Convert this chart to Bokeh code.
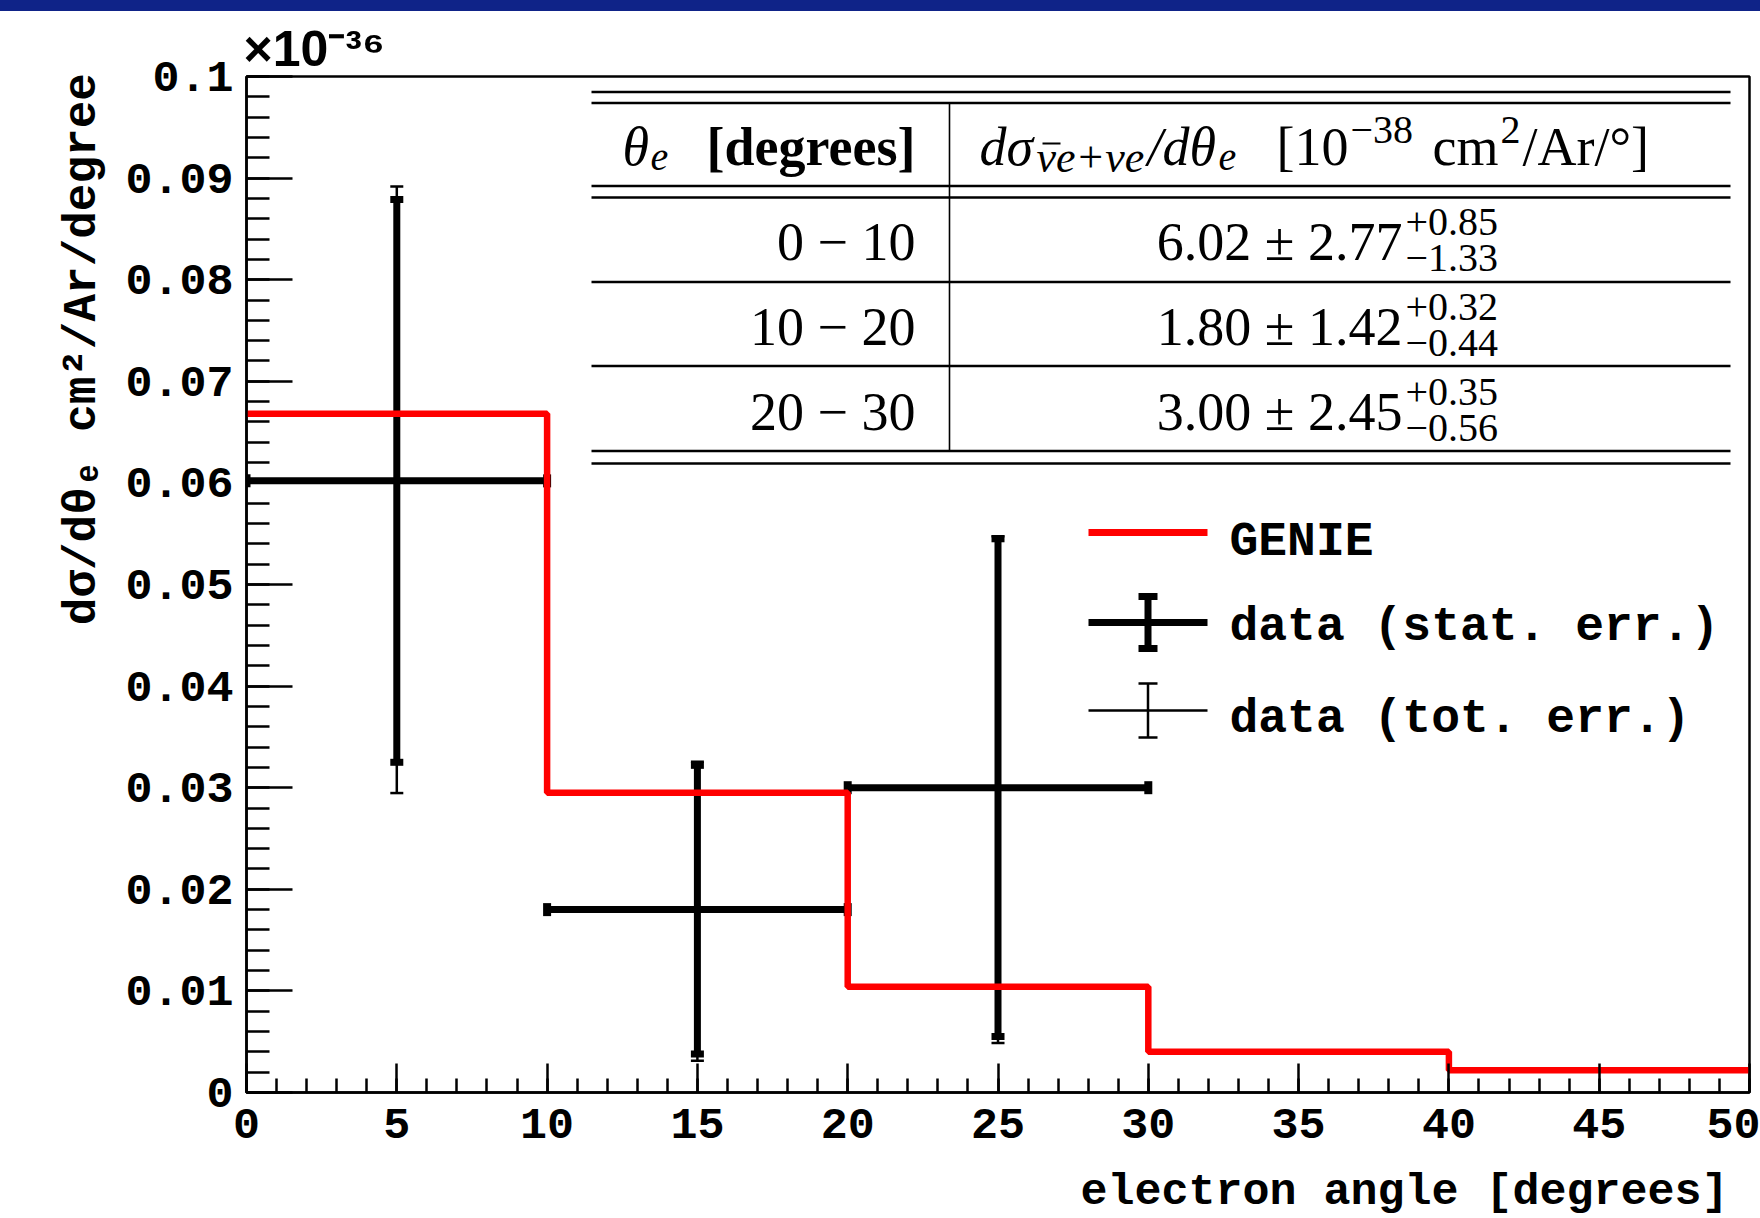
import numpy as np
from bokeh.plotting import figure
from bokeh.models import (ColumnDataSource, Whisker, TeeHead, Range1d, Title, Div,
                          SingleIntervalTicker, CustomJSTickFormatter)
from bokeh.layouts import column
from bokeh.core.properties import value
from bokeh.embed import file_html
from bokeh.resources import INLINE

# ---------------------------------------------------------------- data
# cross sections in units of 1e-36 cm^2 / Ar / degree
BIN_EDGES = [0, 10, 20, 30, 40, 50]
GENIE_XSEC = [0.0668, 0.0295, 0.0104, 0.0040, 0.0022]

DATA_BIN_LO = [0, 10, 20]
DATA_BIN_HI = [10, 20, 30]
DATA_XSEC = [0.0602, 0.0180, 0.0300]
DATA_STAT = [0.0277, 0.0142, 0.0245]
DATA_SYST_UP = [0.0085, 0.0032, 0.0035]
DATA_SYST_DN = [0.0133, 0.0044, 0.0056]

X_TICKS = [0, 5, 10, 15, 20, 25, 30, 35, 40, 45, 50]
X_TICK_LABELS = ["0", "5", "10", "15", "20", "25", "30", "35", "40", "45", "50"]
Y_TICKS = [0, 0.01, 0.02, 0.03, 0.04, 0.05, 0.06, 0.07, 0.08, 0.09, 0.1]
Y_TICK_LABELS = ["0", "0.01", "0.02", "0.03", "0.04", "0.05", "0.06",
                 "0.07", "0.08", "0.09", "0.1"]

LEGEND_LABELS = ["GENIE", "data (stat. err.)", "data (tot. err.)"]
X_LABEL = "electron angle [degrees]"
Y_LABEL = "dσ/dθₑ  cm²/Ar/degree"
Y_EXPONENT = "×10⁻³⁶"
TABLE_UNIT_SCALE = 100  # 1e-36 -> 1e-38

X_RANGE = (0, 50)
Y_RANGE = (0, 0.1)

# ---------------------------------------------------------------- layout (page pixels)
PAGE_W, PAGE_H = 1760, 1218
BAR_H = 11
FIG_X0, FIG_Y0 = 0, BAR_H
FIG_W, FIG_H = PAGE_W, PAGE_H - BAR_H
FRAME_L, FRAME_T, FRAME_W, FRAME_H = 246, 76, 1503, 1016
FRAME_B = FRAME_T + FRAME_H

MONO = "Liberation Mono"
SERIF = "Liberation Serif"
SANS = "Liberation Sans"


def dx(px):
    return X_RANGE[0] + (px - FRAME_L) / FRAME_W * (X_RANGE[1] - X_RANGE[0])


def dy(py):
    return Y_RANGE[0] + (FRAME_B - py) / FRAME_H * (Y_RANGE[1] - Y_RANGE[0])


p = figure(width=FIG_W, height=FIG_H, output_backend="svg", toolbar_location=None,
           x_range=Range1d(*X_RANGE), y_range=Range1d(*Y_RANGE),
           min_border_left=FRAME_L - FIG_X0,
           min_border_right=FIG_X0 + FIG_W - (FRAME_L + FRAME_W),
           min_border_top=FRAME_T - FIG_Y0,
           min_border_bottom=FIG_Y0 + FIG_H - FRAME_B)
p.xgrid.visible = False
p.ygrid.visible = False
p.outline_line_color = "black"
p.outline_line_width = 2.5
p.background_fill_color = "white"
p.border_fill_color = "white"

# ---------------------------------------------------------------- axes
fmt_code = """
let best = 0; let bd = Infinity;
for (let i = 0; i < tick_vals.length; i++) {
  const d = Math.abs(tick_vals[i] - tick);
  if (d < bd) { bd = d; best = i; }
}
return tick_labels[best];
"""
p.xaxis.ticker = SingleIntervalTicker(interval=5, num_minor_ticks=5)
p.xaxis.formatter = CustomJSTickFormatter(
    args=dict(tick_vals=X_TICKS, tick_labels=X_TICK_LABELS), code=fmt_code)
p.yaxis.ticker = SingleIntervalTicker(interval=0.01, num_minor_ticks=5)
p.yaxis.formatter = CustomJSTickFormatter(
    args=dict(tick_vals=Y_TICKS, tick_labels=Y_TICK_LABELS), code=fmt_code)

for ax in (p.xaxis[0], p.yaxis[0]):
    ax.axis_line_width = 2.5
    ax.axis_line_color = "black"
    ax.major_tick_line_width = 2.5
    ax.minor_tick_line_width = 2.5
    ax.major_tick_line_color = "black"
    ax.minor_tick_line_color = "black"
    ax.major_tick_out = 0
    ax.minor_tick_out = 0
    ax.major_label_text_font = MONO
    ax.major_label_text_font_style = "bold"
    ax.major_label_text_font_size = "45px"
    ax.major_label_text_color = "black"

p.xaxis.major_tick_in = 29
p.xaxis.minor_tick_in = 14
p.xaxis.major_label_standoff = 16
p.yaxis.major_tick_in = 46
p.yaxis.minor_tick_in = 23
p.yaxis.major_label_standoff = 13

# axis titles (ROOT style: at the far end of each axis) and the exponent
p.add_layout(Title(text=Y_EXPONENT, align="left", offset=-3, standoff=0,
                   text_font=SANS, text_font_style="bold", text_font_size="50px",
                   text_color="black"), "above")
p.add_layout(Title(text=Y_LABEL, align="right", offset=-31, standoff=27,
                   text_font=MONO, text_font_style="bold", text_font_size="46px",
                   text_color="black"), "left")
# empty spacer panel between the x axis and its title
p.add_layout(Title(text=" ", standoff=0, text_font_size="19px", text_font=MONO), "below")
p.add_layout(Title(text=X_LABEL, align="right", offset=21, standoff=0,
                   text_font=MONO, text_font_style="bold", text_font_size="45px",
                   text_color="black"), "below")

# ---------------------------------------------------------------- GENIE histogram
p.step(x=BIN_EDGES, y=GENIE_XSEC + [GENIE_XSEC[-1]], mode="after",
       line_color="#ff0000", line_width=6.5)

# ---------------------------------------------------------------- data points
x_c = [(a + b) / 2 for a, b in zip(DATA_BIN_LO, DATA_BIN_HI)]
y = np.array(DATA_XSEC)
st = np.array(DATA_STAT)
tot_up = np.sqrt(st ** 2 + np.array(DATA_SYST_UP) ** 2)
tot_dn = np.sqrt(st ** 2 + np.array(DATA_SYST_DN) ** 2)
src = ColumnDataSource(dict(
    x=x_c, y=y, xlo=DATA_BIN_LO, xhi=DATA_BIN_HI,
    st_lo=y - st, st_hi=y + st, tot_lo=y - tot_dn, tot_hi=y + tot_up))

w_tot = Whisker(source=src, base="x", lower="tot_lo", upper="tot_hi", dimension="height",
                line_color="black", line_width=2.5,
                upper_head=TeeHead(size=13, line_width=2.5, line_color="black"),
                lower_head=TeeHead(size=13, line_width=2.5, line_color="black"))
w_stat = Whisker(source=src, base="x", lower="st_lo", upper="st_hi", dimension="height",
                 line_color="black", line_width=7,
                 upper_head=TeeHead(size=13, line_width=7, line_color="black"),
                 lower_head=TeeHead(size=13, line_width=7, line_color="black"))
w_bin = Whisker(source=src, base="y", lower="xlo", upper="xhi", dimension="width",
                line_color="black", line_width=7,
                upper_head=TeeHead(size=13, line_width=8, line_color="black"),
                lower_head=TeeHead(size=13, line_width=8, line_color="black"))
for w in (w_tot, w_stat, w_bin):
    p.add_layout(w)

# ---------------------------------------------------------------- table
TBL_L, TBL_R, TBL_DIV = 591, 1730, 949
TBL_HLINES = [91.5, 102.5, 185.5, 197, 281.5, 365.5, 450.5, 463]
p.segment(x0=[dx(TBL_L)] * len(TBL_HLINES), x1=[dx(TBL_R)] * len(TBL_HLINES),
          y0=[dy(v) for v in TBL_HLINES], y1=[dy(v) for v in TBL_HLINES],
          line_color="black", line_width=2.6)
p.segment(x0=[dx(TBL_DIV)], x1=[dx(TBL_DIV)], y0=[dy(102.5)], y1=[dy(450.5)],
          line_color="black", line_width=1.6)
# bar over the anti-neutrino symbol in the header
p.segment(x0=[dx(1042)], x1=[dx(1060)], y0=[dy(143)], y1=[dy(143)],
          line_color="black", line_width=2.2)

M, S, SS = "54px", "40px", "44px"
HC = 146  # header text centre
pieces = [
    # header column 1
    ("θ", 622, HC, M, "italic", "left"),
    ("e", 650, HC + 10, S, "italic", "left"),
    ("[degrees]", 915, HC, M, "bold", "right"),
    # header column 2
    ("dσ", 979, HC, M, "italic", "left"),
    ("νe+νe", 1036, HC + 11, SS, "italic", "left"),
    ("/dθ", 1147, HC, M, "italic", "left"),
    ("e", 1218, HC + 10, S, "italic", "left"),
    ("[10", 1276, HC, M, "normal", "left"),
    ("\u221238", 1350, HC - 17, S, "normal", "left"),
    ("cm", 1432, HC, M, "normal", "left"),
    ("2", 1500, HC - 17, S, "normal", "left"),
    ("/Ar/°]", 1522, HC, M, "normal", "left"),
]
for i in range(len(DATA_XSEC)):
    c = 241 + 85 * i
    k = TABLE_UNIT_SCALE
    pieces += [
        (f"{DATA_BIN_LO[i]} \u2212 {DATA_BIN_HI[i]}", 915, c, M, "normal", "right"),
        (f"{DATA_XSEC[i] * k:.2f} ± {DATA_STAT[i] * k:.2f}", 1402, c, M, "normal", "right"),
        (f"+{DATA_SYST_UP[i] * k:.2f}", 1405, c - 20, S, "normal", "left"),
        (f"\u2212{DATA_SYST_DN[i] * k:.2f}", 1405, c + 16, S, "normal", "left"),
    ]
tsrc = ColumnDataSource(dict(
    x=[dx(t[1]) for t in pieces], y=[dy(t[2]) for t in pieces],
    text=[t[0] for t in pieces], size=[t[3] for t in pieces],
    style=[t[4] for t in pieces], align=[t[5] for t in pieces]))
p.text(x="x", y="y", text="text", source=tsrc, text_font=value(SERIF),
       text_font_size="size", text_font_style="style", text_align="align",
       text_baseline="middle", text_color="black")

# ---------------------------------------------------------------- legend
LEG_X0, LEG_X1, LEG_XC = 1088, 1207, 1147.5
LEG_ROWS = [532, 622, 710]
LEG_TEXT_X = 1229
LEG_TEXT_C = [541, 626, 718]
p.segment(x0=[dx(LEG_X0)], x1=[dx(LEG_X1)], y0=[dy(LEG_ROWS[0])], y1=[dy(LEG_ROWS[0])],
          line_color="#ff0000", line_width=7)
# stat sample
r = LEG_ROWS[1]
p.segment(x0=[dx(LEG_X0), dx(LEG_XC), dx(1138), dx(1138)],
          x1=[dx(LEG_X1), dx(LEG_XC), dx(1157), dx(1157)],
          y0=[dy(r), dy(r - 29), dy(r - 26), dy(r + 26)],
          y1=[dy(r), dy(r + 29), dy(r - 26), dy(r + 26)],
          line_color="black", line_width=7)
# total sample
r = LEG_ROWS[2]
p.segment(x0=[dx(LEG_X0), dx(LEG_XC), dx(1138), dx(1138)],
          x1=[dx(LEG_X1), dx(LEG_XC), dx(1157), dx(1157)],
          y0=[dy(r), dy(r - 27), dy(r - 27), dy(r + 27)],
          y1=[dy(r), dy(r + 27), dy(r - 27), dy(r + 27)],
          line_color="black", line_width=2.5)
p.text(x=[dx(LEG_TEXT_X)] * 3, y=[dy(v) for v in LEG_TEXT_C], text=LEGEND_LABELS,
       text_font=value(MONO), text_font_style="bold", text_font_size="48px",
       text_baseline="middle", text_align="left", text_color="black")

bar = Div(text="", width=PAGE_W, height=BAR_H, margin=0,
          styles={"background-color": "#0f2388"})
layout = column(bar, p, spacing=0)
open("out.html", "w").write(file_html(layout, INLINE))
